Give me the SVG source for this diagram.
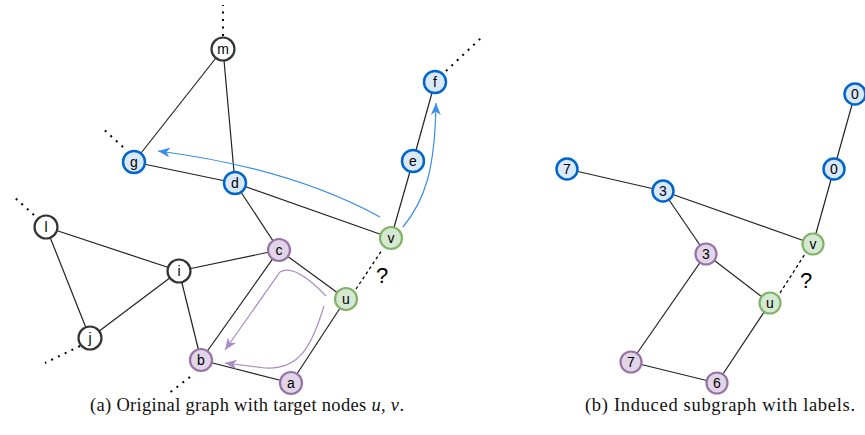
<svg xmlns="http://www.w3.org/2000/svg" width="865" height="435" viewBox="0 0 865 435">
<style>
.e{stroke:#222;stroke-width:1.2;fill:none}
.dot{stroke:#000;stroke-width:2;stroke-dasharray:2 5.5;fill:none}
.dash{stroke:#000;stroke-width:1.3;stroke-dasharray:3 3;fill:none}
.n circle{stroke-width:2.2}
.k circle{fill:#fff;stroke:#333}
.b circle{fill:#dae8fc;stroke:#0066cc;stroke-width:2.5}
.p circle{fill:#e1d5e7;stroke:#9673a6}
.g circle{fill:#d5e8d4;stroke:#82b366}
.n text{font-family:"Liberation Sans",Arial,sans-serif;font-size:14px;text-anchor:middle;dominant-baseline:central;fill:#000}
.ba{stroke:#3a8ee6;stroke-width:1.2;fill:none;marker-end:url(#ab)}
.pa{stroke:#a88cc4;stroke-width:1.2;fill:none;marker-end:url(#ap)}
.cap{font-family:"Liberation Serif","Times New Roman",serif;font-size:18.5px;fill:#111}
.q{font-family:"Liberation Sans",Arial,sans-serif;font-size:22px;text-anchor:middle;fill:#000}
</style>
<defs>
<marker id="ab" markerWidth="12" markerHeight="10" refX="12" refY="5" orient="auto" markerUnits="userSpaceOnUse" viewBox="0 0 12 10">
<path d="M0,0 L12,5 L0,10 L3.5,5 Z" fill="#3a8ee6"/>
</marker>
<marker id="ap" markerWidth="12" markerHeight="10" refX="12" refY="5" orient="auto" markerUnits="userSpaceOnUse" viewBox="0 0 12 10">
<path d="M0,0 L12,5 L0,10 L3.5,5 Z" fill="#a88cc4"/>
</marker>
</defs>
<g id="connectors">
<line class="e" x1="223" y1="49" x2="134" y2="162"/>
<line class="e" x1="223" y1="49" x2="235" y2="183"/>
<line class="e" x1="134" y1="162" x2="235" y2="183"/>
<line class="e" x1="235" y1="183" x2="391" y2="238"/>
<line class="e" x1="235" y1="183" x2="279" y2="250"/>
<line class="e" x1="391" y1="238" x2="413" y2="161"/>
<line class="e" x1="413" y1="161" x2="435" y2="82"/>
<line class="e" x1="279" y1="250" x2="346" y2="299"/>
<line class="e" x1="279" y1="250" x2="179" y2="271"/>
<line class="e" x1="279" y1="250" x2="201" y2="360"/>
<line class="e" x1="346" y1="299" x2="291" y2="383"/>
<line class="e" x1="291" y1="383" x2="201" y2="360"/>
<line class="e" x1="201" y1="360" x2="179" y2="271"/>
<line class="e" x1="179" y1="271" x2="46" y2="227"/>
<line class="e" x1="179" y1="271" x2="90" y2="338"/>
<line class="e" x1="46" y1="227" x2="90" y2="338"/>
<line class="dash" x1="356" y1="289" x2="382" y2="250"/>
<line class="dot" x1="223" y1="36" x2="223" y2="5"/>
<line class="dot" x1="123" y1="147" x2="101" y2="127"/>
<line class="dot" x1="446" y1="71" x2="481" y2="38"/>
<line class="dot" x1="34" y1="215" x2="13" y2="196"/>
<line class="dot" x1="80" y1="346" x2="45" y2="363"/>
<line class="dot" x1="190" y1="377" x2="168" y2="394"/>
<path class="ba" d="M380,217 Q290,168 158,151"/>
<path class="ba" d="M403,227 C425,200 435,170 436,103"/>
<path class="pa" d="M326,296 C305,274 290,266 280,272 L225,350"/>
<path class="pa" d="M324,306 C312,345 300,370 265,368 L225,363"/>
<line class="e" x1="855" y1="94" x2="834" y2="169"/>
<line class="e" x1="834" y1="169" x2="813" y2="244"/>
<line class="e" x1="567" y1="169" x2="663" y2="191"/>
<line class="e" x1="663" y1="191" x2="813" y2="244"/>
<line class="e" x1="663" y1="191" x2="706" y2="254"/>
<line class="e" x1="706" y1="254" x2="770" y2="303"/>
<line class="e" x1="706" y1="254" x2="631" y2="362"/>
<line class="e" x1="631" y1="362" x2="717" y2="383"/>
<line class="e" x1="717" y1="383" x2="770" y2="303"/>
<line class="dash" x1="780" y1="293" x2="805" y2="254"/>
</g>
<text class="q" x="382" y="283">?</text>
<text class="q" x="806" y="288">?</text>
<g id="m" class="n k"><circle cx="223" cy="49" r="11.5"/><text x="223" y="49">m</text></g>
<g id="g" class="n b"><circle cx="134" cy="162" r="11"/><text x="134" y="162">g</text></g>
<g id="d" class="n b"><circle cx="235" cy="183" r="11"/><text x="235" y="183">d</text></g>
<g id="e" class="n b"><circle cx="413" cy="161" r="11"/><text x="413" y="161">e</text></g>
<g id="f" class="n b"><circle cx="435" cy="82" r="11"/><text x="435" y="82">f</text></g>
<g id="v" class="n g"><circle cx="391" cy="238" r="11"/><text x="391" y="238">v</text></g>
<g id="l" class="n k"><circle cx="46" cy="227" r="11.5"/><text x="46" y="227">l</text></g>
<g id="i" class="n k"><circle cx="179" cy="271" r="11.5"/><text x="179" y="271">i</text></g>
<g id="j" class="n k"><circle cx="90" cy="338" r="11.5"/><text x="90" y="338">j</text></g>
<g id="c" class="n p"><circle cx="279" cy="250" r="11"/><text x="279" y="250">c</text></g>
<g id="u" class="n g"><circle cx="346" cy="299" r="11"/><text x="346" y="299">u</text></g>
<g id="b" class="n p"><circle cx="201" cy="360" r="11"/><text x="201" y="360">b</text></g>
<g id="a" class="n p"><circle cx="291" cy="383" r="11"/><text x="291" y="383">a</text></g>
<g id="r0a" class="n b"><circle cx="855" cy="94" r="10.5"/><text x="855" y="94">0</text></g>
<g id="r0b" class="n b"><circle cx="834" cy="169" r="10.5"/><text x="834" y="169">0</text></g>
<g id="r7b" class="n b"><circle cx="567" cy="169" r="10.5"/><text x="567" y="169">7</text></g>
<g id="r3b" class="n b"><circle cx="663" cy="191" r="10.5"/><text x="663" y="191">3</text></g>
<g id="rv" class="n g"><circle cx="813" cy="244" r="10.5"/><text x="813" y="244">v</text></g>
<g id="r3p" class="n p"><circle cx="706" cy="254" r="10.5"/><text x="706" y="254">3</text></g>
<g id="ru" class="n g"><circle cx="770" cy="303" r="10.5"/><text x="770" y="303">u</text></g>
<g id="r7p" class="n p"><circle cx="631" cy="362" r="10.5"/><text x="631" y="362">7</text></g>
<g id="r6" class="n p"><circle cx="717" cy="383" r="10.5"/><text x="717" y="383">6</text></g>
<text class="cap" x="90" y="411" textLength="314" lengthAdjust="spacing">(a)  Original graph with target nodes <tspan font-style="italic">u</tspan>, <tspan font-style="italic">v</tspan>.</text>
<text class="cap" x="585" y="411" textLength="270" lengthAdjust="spacing">(b)  Induced subgraph with labels.</text>
</svg>
